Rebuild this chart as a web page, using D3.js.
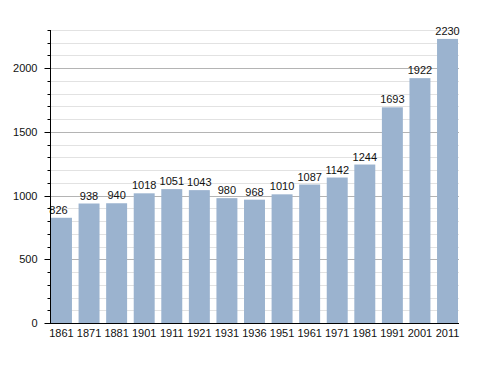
<!DOCTYPE html>
<html>
<head>
<meta charset="utf-8">
<script src="https://cdn.jsdelivr.net/npm/d3@7"></script>
<style>
  body { margin: 0; background: #fff; }
  text { font-family: "Liberation Sans", Arial, sans-serif; }
</style>
</head>
<body>
<div id="chart"></div>
<script>
// census years and population
var years = ["1861", "1871", "1881", "1901", "1911", "1921", "1931", "1936", "1951", "1961", "1971", "1981", "1991", "2001", "2011"]
var population = [826, 938, 940, 1018, 1051, 1043, 980, 968, 1010, 1087, 1142, 1244, 1693, 1922, 2230]
var majorTicks = [0, 500, 1000, 1500, 2000]

var width = 488, height = 373
var plotLeft = 50, plotRight = 459, plotTop = 30, plotBottom = 323

var svg = d3.select("#chart")
  .append("svg")
  .attr("width", width)
  .attr("height", height)

var y = d3.scaleLinear()
  .domain([0, 2300])
  .range([plotBottom, plotTop])

var x = d3.scaleBand()
  .domain(years)
  .range([51, 458])
  .paddingInner(0.24)
  .paddingOuter(0)

// minor grid lines every 100
var minor = d3.range(100, 2301, 100).filter(function(d) { return d % 500 != 0 })
svg.append("g")
  .selectAll("line")
  .data(minor)
  .enter()
  .append("line")
    .attr("x1", plotLeft)
    .attr("x2", plotRight)
    .attr("y1", function(d) { return Math.round(y(d)) + 0.5 })
    .attr("y2", function(d) { return Math.round(y(d)) + 0.5 })
    .style("stroke", "#e2e2e2")

svg.append("g")
  .selectAll("line")
  .data(majorTicks.slice(1))
  .enter()
  .append("line")
    .attr("x1", plotLeft)
    .attr("x2", plotRight)
    .attr("y1", function(d) { return Math.round(y(d)) + 0.5 })
    .attr("y2", function(d) { return Math.round(y(d)) + 0.5 })
    .style("stroke", "#b4b4b4")

// bars
svg.append("g")
  .selectAll("rect")
  .data(population)
  .enter()
  .append("rect")
    .attr("x", function(d, i) { return x(years[i]) })
    .attr("y", function(d) { return y(d) })
    .attr("width", x.bandwidth())
    .attr("height", function(d) { return plotBottom - y(d) })
    .style("fill", "#9bb3cf")

// value labels
svg.append("g")
  .selectAll("text")
  .data(population)
  .enter()
  .append("text")
    .attr("x", function(d, i) { return x(years[i]) + x.bandwidth() / 2 - (i == 0 ? 3 : 0) })
    .attr("y", function(d) { return y(d) - 4 })
    .attr("text-anchor", "middle")
    .style("font-size", "11px")
    .style("fill", "#111")
    .text(function(d) { return d })

// y axis with major + minor ticks
var yAxis = svg.append("g")
  .attr("transform", "translate(" + (plotLeft + 0.5) + ",0)")
yAxis.append("line")
  .attr("y1", plotTop).attr("y2", plotBottom)
  .style("stroke", "#000")
yAxis.selectAll(".minor")
  .data(minor)
  .enter()
  .append("line")
    .attr("x1", -3).attr("x2", 0)
    .attr("y1", function(d) { return Math.round(y(d)) + 0.5 })
    .attr("y2", function(d) { return Math.round(y(d)) + 0.5 })
    .style("stroke", "#000")
yAxis.selectAll(".major")
  .data(majorTicks)
  .enter()
  .append("line")
    .attr("x1", -6).attr("x2", 0)
    .attr("y1", function(d) { return Math.round(y(d)) + 0.5 })
    .attr("y2", function(d) { return Math.round(y(d)) + 0.5 })
    .style("stroke", "#000")
yAxis.selectAll("text")
  .data(majorTicks)
  .enter()
  .append("text")
    .attr("x", -13)
    .attr("y", function(d) { return y(d) + 4 })
    .attr("text-anchor", "end")
    .style("font-size", "11px")
    .style("fill", "#111")
    .text(function(d) { return d })

// x axis
svg.append("line")
  .attr("x1", plotLeft).attr("x2", plotRight)
  .attr("y1", plotBottom + 0.5).attr("y2", plotBottom + 0.5)
  .style("stroke", "#000")
svg.append("g")
  .selectAll("text")
  .data(years)
  .enter()
  .append("text")
    .attr("x", function(d) { return x(d) + x.bandwidth() / 2 })
    .attr("y", plotBottom + 14)
    .attr("text-anchor", "middle")
    .style("font-size", "11px")
    .style("fill", "#111")
    .text(function(d) { return d })
</script>
</body>
</html>
